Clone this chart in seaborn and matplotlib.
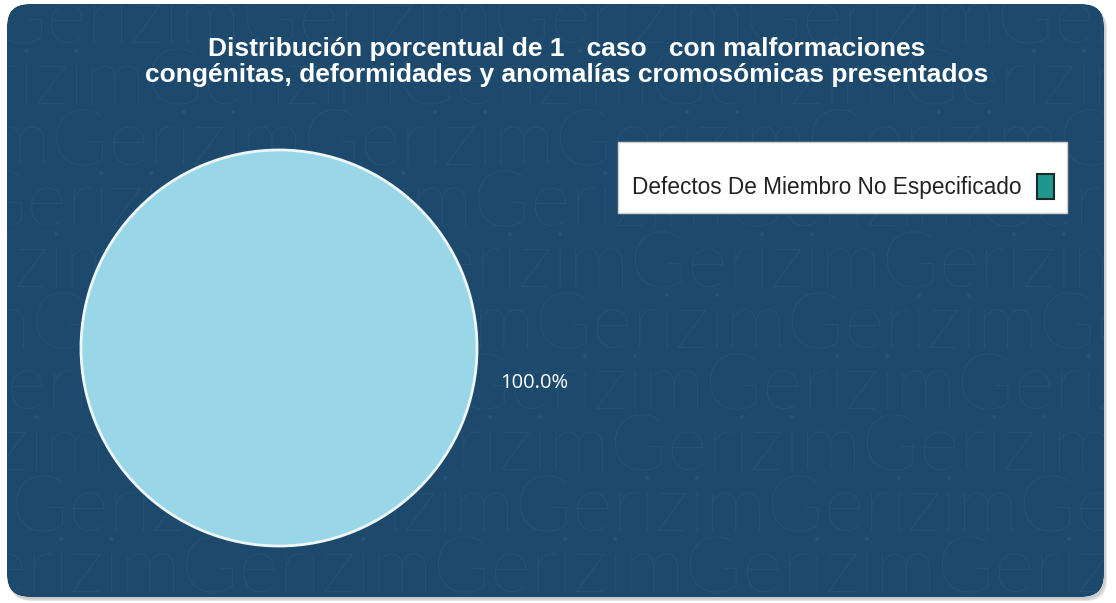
import matplotlib
matplotlib.use("Agg")
import numpy as np
import matplotlib.pyplot as plt
import seaborn as sns
from matplotlib.patches import FancyBboxPatch, Patch, PathPatch
from matplotlib.path import Path

# Data
categories = ["Defectos De Miembro No Especificado"]
values = [1]
pct_labels = ["100.0%"]
title_text = ("Distribución porcentual de 1   caso   con malformaciones\n"
              "congénitas, deformidades y anomalías cromosómicas presentados")

sns.set_theme(style="white")
plt.rcParams["font.family"] = ["Liberation Sans", "DejaVu Sans"]

BG = "#1d4a6c"
WATERMARK = "#275476"
PIE_COLOR = "#99d6e8"
LEGEND_COLOR = "#1f9690"

W, H = 1116, 603
fig = plt.figure(figsize=(W / 100, H / 100), dpi=100, facecolor="white")

# Full-figure background axes holding the rounded panel and watermark
bg = fig.add_axes([0, 0, 1, 1])
bg.set_xlim(0, W)
bg.set_ylim(H, 0)
bg.axis("off")
bg.set_zorder(0)

panel = FancyBboxPatch((7, 4), 1097, 593,
                       boxstyle="round,pad=0,rounding_size=22",
                       facecolor=BG, edgecolor="none", zorder=0)
bg.add_patch(panel)

# Repeating watermark lettering
word = "Gerizim" * 6
for i, y in enumerate(range(22, 640, 61)):
    x0 = -((i * 95) % 265) - 10
    bg.text(x0, y, word, fontsize=56, color=WATERMARK,
            family=["Lato", "DejaVu Sans"], fontweight="light",
            va="center", ha="left", clip_on=True, zorder=1)


def signed_area(v):
    x, y = v[:, 0], v[:, 1]
    return 0.5 * np.sum(x * np.roll(y, -1) - np.roll(x, -1) * y)


# White surround outside the rounded panel (a frame with a rounded hole)
inner = panel.get_path().transformed(panel.get_patch_transform()).to_polygons()[0]
outer = np.array([(0, 0), (W, 0), (W, H), (0, H), (0, 0)], float)
if np.sign(signed_area(inner)) == np.sign(signed_area(outer)):
    inner = inner[::-1]
verts = np.vstack([outer, inner])
codes = ([Path.MOVETO] + [Path.LINETO] * (len(outer) - 1)
         + [Path.MOVETO] + [Path.LINETO] * (len(inner) - 1))
ring = Path(verts, codes)
mask = PathPatch(ring, facecolor="white", edgecolor="none", zorder=2)
bg.add_patch(mask)

# Soft shadow showing just outside the panel's lower-left edge
for k, a in enumerate([0.10, 0.14, 0.20]):
    sh = FancyBboxPatch((7 + 1 + k, 4 + 2 + k), 1097, 593,
                        boxstyle="round,pad=0,rounding_size=22",
                        facecolor="#7a7a7a", edgecolor="none", alpha=a,
                        zorder=3)
    bg.add_patch(sh)
    sh.set_clip_path(mask)

# Title
fig.text(567 / W, 1 - 62 / H, title_text, ha="center", va="center",
         color="white", fontsize=19, fontweight="bold", linespacing=1.08,
         zorder=5)

# Pie
cx, cy, r = 279, 348, 199
ax = fig.add_axes([(cx - r) / W, 1 - (cy + r) / H, 2 * r / W, 2 * r / H])
ax.set_zorder(4)
ax.patch.set_alpha(0)
wedges, _ = ax.pie(values, colors=[PIE_COLOR], startangle=90,
                   wedgeprops=dict(edgecolor="#eef6f8", linewidth=2))
ax.set_aspect("equal")
ax.set_xlim(-1.005, 1.005)
ax.set_ylim(-1.005, 1.005)
ax.axis("off")
fig.text(534 / W, 1 - 383 / H, pct_labels[0], ha="center", va="center",
         color="white", fontsize=14.5, family=["Open Sans", "DejaVu Sans"],
         zorder=5)

# Legend box
handles = [Patch(facecolor=LEGEND_COLOR, edgecolor="#1a2a2a", linewidth=1.5)]
leg = fig.legend(handles, categories, loc="upper left",
                 bbox_to_anchor=(618 / W, 1 - 142 / H), markerfirst=False,
                 frameon=True, fancybox=False, framealpha=1, fontsize=16.3,
                 title=" ", title_fontsize=5, borderpad=0.6,
                 handlelength=0.75, handleheight=1.35, handletextpad=0.7,
                 borderaxespad=0)
leg.get_frame().set_facecolor("white")
leg.get_frame().set_edgecolor("#d0d0d0")
leg.set_zorder(6)
for txt in leg.get_texts():
    txt.set_color("#222222")

fig.savefig("out.png", dpi=100, facecolor="white")
